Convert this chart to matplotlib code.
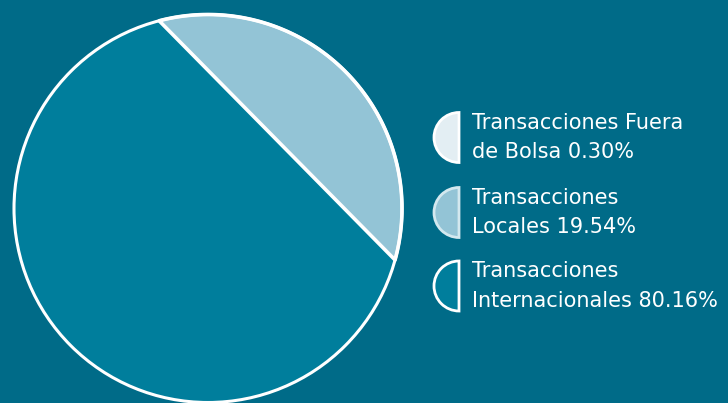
import numpy as np
import matplotlib
matplotlib.use("Agg")
import matplotlib.pyplot as plt
from matplotlib.patches import Wedge, Circle, Polygon

# ---- data ----
labels = ["Transacciones Fuera\nde Bolsa 0.30%",
          "Transacciones\nLocales 19.54%",
          "Transacciones\nInternacionales 80.16%"]
shares = [0.30, 19.54, 80.16]

BG = "#006B88"
colors = ["#E3EEF3", "#93C4D6", "#007E9C"]
marker_edges = ["#FFFFFF", "#D3E8EF", "#FFFFFF"]

fig = plt.figure(figsize=(7.28, 4.03), dpi=100)
fig.patch.set_facecolor(BG)
ax = fig.add_axes([0, 0, 1, 1])
ax.set_facecolor(BG)
ax.set_xlim(0, 728)
ax.set_ylim(0, 403)
ax.set_aspect("equal")
ax.axis("off")

# ---- "level" pie: the local share is a circular segment cut off by a chord ----
cx, cy, r = 208, 194.5, 194
ax.add_patch(Circle((cx, cy), r, facecolor=colors[2], edgecolor="none"))

# central angle of a segment whose area is the given share
f = shares[1] / 100
th = 2.0
for _ in range(30):
    th -= (th - np.sin(th) - 2 * np.pi * f) / (1 - np.cos(th))
mid = np.deg2rad(44.6)
t = np.linspace(mid - th / 2, mid + th / 2, 200)
seg = np.column_stack([cx + r * np.cos(t), cy + r * np.sin(t)])
ax.add_patch(Polygon(seg, closed=True, facecolor=colors[1], edgecolor="white",
                     lw=2.6, joinstyle="round"))
ax.add_patch(Circle((cx, cy), r, facecolor="none", edgecolor="white", lw=2.2))

# ---- legend: half-disc markers + two-line labels ----
ys = [265.5, 190.5, 117]
for lab, y, fc, ec in zip(labels, ys, colors, marker_edges):
    ax.add_patch(Wedge((459, y), 25, 90, 270, facecolor=fc, edgecolor=ec, lw=2.0))
    ax.text(472, y, lab, color="white", fontsize=15, va="center", ha="left",
            linespacing=1.6, family="DejaVu Sans")

fig.savefig("out.png", dpi=100, facecolor=BG)
